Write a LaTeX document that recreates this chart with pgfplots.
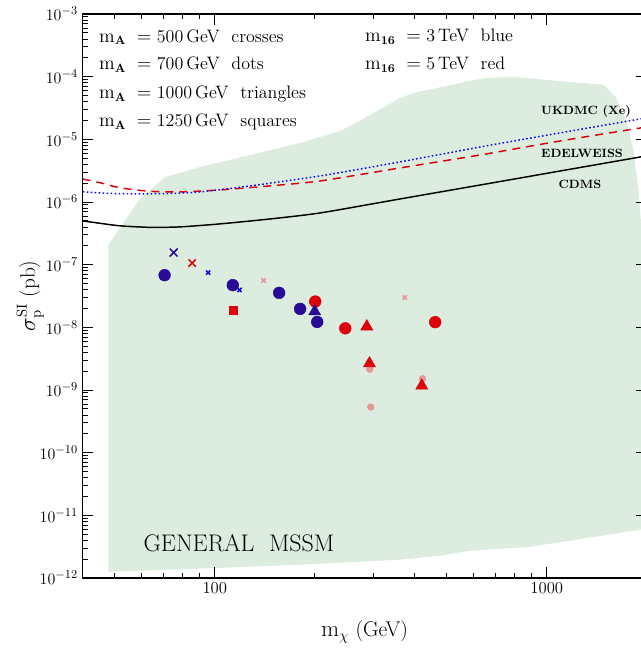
\documentclass[border=0pt]{standalone}
\usepackage{pgfplots}
\pgfplotsset{compat=1.18}
\usetikzlibrary{calc}
\definecolor{mssm}{RGB}{220,237,224}
\definecolor{dkblue}{RGB}{40,10,150}
\definecolor{myred}{RGB}{222,0,10}
\definecolor{mypink}{RGB}{230,150,150}
\definecolor{brblue}{RGB}{10,10,230}
\begin{document}
\begin{tikzpicture}
\begin{axis}[
  xmode=log, ymode=log,
  scale only axis, width=423pt, height=423pt,
  xmin=40, xmax=2000, ymin=1e-12, ymax=1e-3,
  xtick={100,1000}, xticklabels={100,1000},
  minor xtick={40,50,60,70,80,90,200,300,400,500,600,700,800,900,2000},
  ytick={1e-12,1e-11,1e-10,1e-9,1e-8,1e-7,1e-6,1e-5,1e-4,1e-3},
  yticklabels={$10^{-12}$,$10^{-11}$,$10^{-10}$,$10^{-9}$,$10^{-8}$,$10^{-7}$,$10^{-6}$,$10^{-5}$,$10^{-4}$,$10^{-3}$},
  minor ytick={2e-12,3e-12,4e-12,5e-12,6e-12,7e-12,8e-12,9e-12,
    2e-11,3e-11,4e-11,5e-11,6e-11,7e-11,8e-11,9e-11,
    2e-10,3e-10,4e-10,5e-10,6e-10,7e-10,8e-10,9e-10,
    2e-9,3e-9,4e-9,5e-9,6e-9,7e-9,8e-9,9e-9,
    2e-8,3e-8,4e-8,5e-8,6e-8,7e-8,8e-8,9e-8,
    2e-7,3e-7,4e-7,5e-7,6e-7,7e-7,8e-7,9e-7,
    2e-6,3e-6,4e-6,5e-6,6e-6,7e-6,8e-6,9e-6,
    2e-5,3e-5,4e-5,5e-5,6e-5,7e-5,8e-5,9e-5,
    2e-4,3e-4,4e-4,5e-4,6e-4,7e-4,8e-4,9e-4},
  major tick length=8pt, minor tick length=4pt,
  every tick/.style={black, line width=0.6pt},
  axis line style={line width=0.9pt},
  tick label style={font=\fontsize{12.5}{14}\selectfont},
  xlabel={$\mathrm{m}_\chi$ (GeV)},
  ylabel={$\sigma_{\mathrm{p}}^{\mathrm{SI}}$ (pb)},
  label style={font=\fontsize{16}{18}\selectfont},
  xlabel style={at={(axis description cs:0.5,-0.096)}, anchor=center},
  ylabel style={at={(axis description cs:-0.093,0.5)}, anchor=center},
  axis on top,
]
\coordinate (O) at (rel axis cs:0,0);
% MSSM region
\addplot[fill=mssm, draw=none] coordinates {
 (47.8,1.26e-12) (47.8,2.07e-7) (59.7,1.16e-6) (71,2.5e-6) (90.6,3.63e-6) (128,5.64e-6)
 (181,8.77e-6) (239,1.36e-5) (294,2.45e-5) (362,4.57e-5) (397,5.50e-5)
 (645,9.53e-5) (794,9.89e-5) (1482,7.38e-5) (1611,4.75e-5) (1737,2.04e-5)
 (1824,6.78e-6) (1888,1.56e-6) (1942,2.49e-7) (2000,5.73e-8) (2000,6.34e-12)
 (1916,5.89e-12) (893,3.16e-12) (589,2.72e-12) (478,2.27e-12) (362,1.96e-12)
 (181,1.63e-12) (90.6,1.41e-12) (47.8,1.26e-12)} \closedcycle;
% CDMS
\addplot[black, line width=1.1pt, smooth, tension=0.4] coordinates {
 (40,5.0e-7) (45.3,4.56e-7) (52.0,4.16e-7) (64.1,3.94e-7) (78.8,4.01e-7)
 (104,4.48e-7) (147,5.37e-7) (208,6.70e-7) (362,1.12e-6) (631,1.87e-6)
 (1099,3.13e-6) (1916,5.24e-6) (2000,5.5e-6)};
% EDELWEISS
\addplot[myred, line width=1.1pt, dash pattern=on 6pt off 4.5pt, smooth, tension=0.4] coordinates {
 (40,2.33e-6) (45.3,2.02e-6) (52.0,1.68e-6) (64.1,1.48e-6) (78.8,1.45e-6)
 (104,1.56e-6) (147,1.81e-6) (208,2.17e-6) (362,3.50e-6) (631,5.64e-6)
 (1099,9.43e-6) (1916,1.52e-5) (2000,1.58e-5)};
% UKDMC
\addplot[brblue, line width=1.1pt, dash pattern=on 1.2pt off 1.8pt, smooth, tension=0.4] coordinates {
 (40,1.45e-6) (48.5,1.37e-6) (59.7,1.35e-6) (73.6,1.37e-6) (90.6,1.45e-6)
 (128,1.81e-6) (208,2.61e-6) (362,4.37e-6) (631,7.56e-6) (1099,1.27e-5)
 (1916,2.12e-5) (2000,2.2e-5)};
% markers
\addplot[only marks, mark=x, mark size=4.2pt, dkblue, mark options={line width=1.1pt}] coordinates {(75.2,1.56e-7)};
\addplot[only marks, mark=x, mark size=3.9pt, myred, mark options={line width=1.1pt}] coordinates {(85.5,1.06e-7)};
\addplot[only marks, mark=x, mark size=2.2pt, brblue, mark options={line width=1.2pt}] coordinates {(95.5,7.48e-8) (118.7,3.96e-8)};
\addplot[only marks, mark=x, mark size=2.3pt, mypink, mark options={line width=1.2pt}] coordinates {(140.2,5.58e-8) (373.6,2.99e-8)};
\addplot[only marks, mark=*, mark size=4.4pt, dkblue] coordinates {
 (70.6,6.80e-8) (113.3,4.71e-8) (156.3,3.55e-8) (180.8,1.97e-8) (203.5,1.22e-8)};
\addplot[only marks, mark=*, mark size=4.4pt, myred] coordinates {
 (200.7,2.58e-8) (247.2,9.64e-9) (461.2,1.21e-8)};
\addplot[only marks, mark=*, mark size=2.5pt, mypink] coordinates {
 (293.0,2.15e-9) (422.3,1.51e-9) (295.1,5.34e-10)};
\addplot[only marks, mark=triangle*, mark size=5.2pt, myred] coordinates {
 (287.0,1.03e-8) (292.4,2.65e-9) (420.3,1.17e-9)};
\addplot[only marks, mark=triangle*, mark size=5.2pt, dkblue] coordinates {(200,1.79e-8)};
\addplot[only marks, mark=square*, mark size=3.1pt, myred] coordinates {(113.8,1.88e-8)};
% texts
\tikzset{lab/.style={font=\fontsize{13.5}{15}\selectfont, anchor=west, inner sep=0pt}}
\node[lab] at (rel axis cs:0.0289,0.959) {$\mathrm{m}_{\mathbf{A}}\;=\;$500\,GeV\ \ crosses};
\node[lab] at (rel axis cs:0.0289,0.9096) {$\mathrm{m}_{\mathbf{A}}\;=\;$700\,GeV\ \ dots};
\node[lab] at (rel axis cs:0.0289,0.858) {$\mathrm{m}_{\mathbf{A}}\;=\;$1000\,GeV\ \ triangles};
\node[lab] at (rel axis cs:0.0289,0.8085) {$\mathrm{m}_{\mathbf{A}}\;=\;$1250\,GeV\ \ squares};
\node[lab] at (rel axis cs:0.5005,0.959) {$\mathrm{m}_{\mathbf{16}}\;=\;$3\,TeV\ \ blue};
\node[lab] at (rel axis cs:0.5005,0.9096) {$\mathrm{m}_{\mathbf{16}}\;=\;$5\,TeV\ \ red};
\tikzset{exp/.style={font=\fontsize{9}{11}\selectfont\bfseries, anchor=center, inner sep=0pt}}
\node[exp] at (rel axis cs:0.8924,0.828) {UKDMC (Xe)};
\node[exp] at (rel axis cs:0.8853,0.7535) {EDELWEISS};
\node[exp] at (rel axis cs:0.8817,0.6986) {CDMS};
\node[font=\fontsize{18}{21}\selectfont, anchor=center, inner sep=0pt] at (rel axis cs:0.2771,0.062) {GENERAL\ \ MSSM};
\end{axis}
\pgfresetboundingbox
\path[use as bounding box] ($(O)+(-62pt,-55.5pt)$) rectangle ($(O)+(418pt,433.5pt)$);
\end{tikzpicture}
\end{document}
